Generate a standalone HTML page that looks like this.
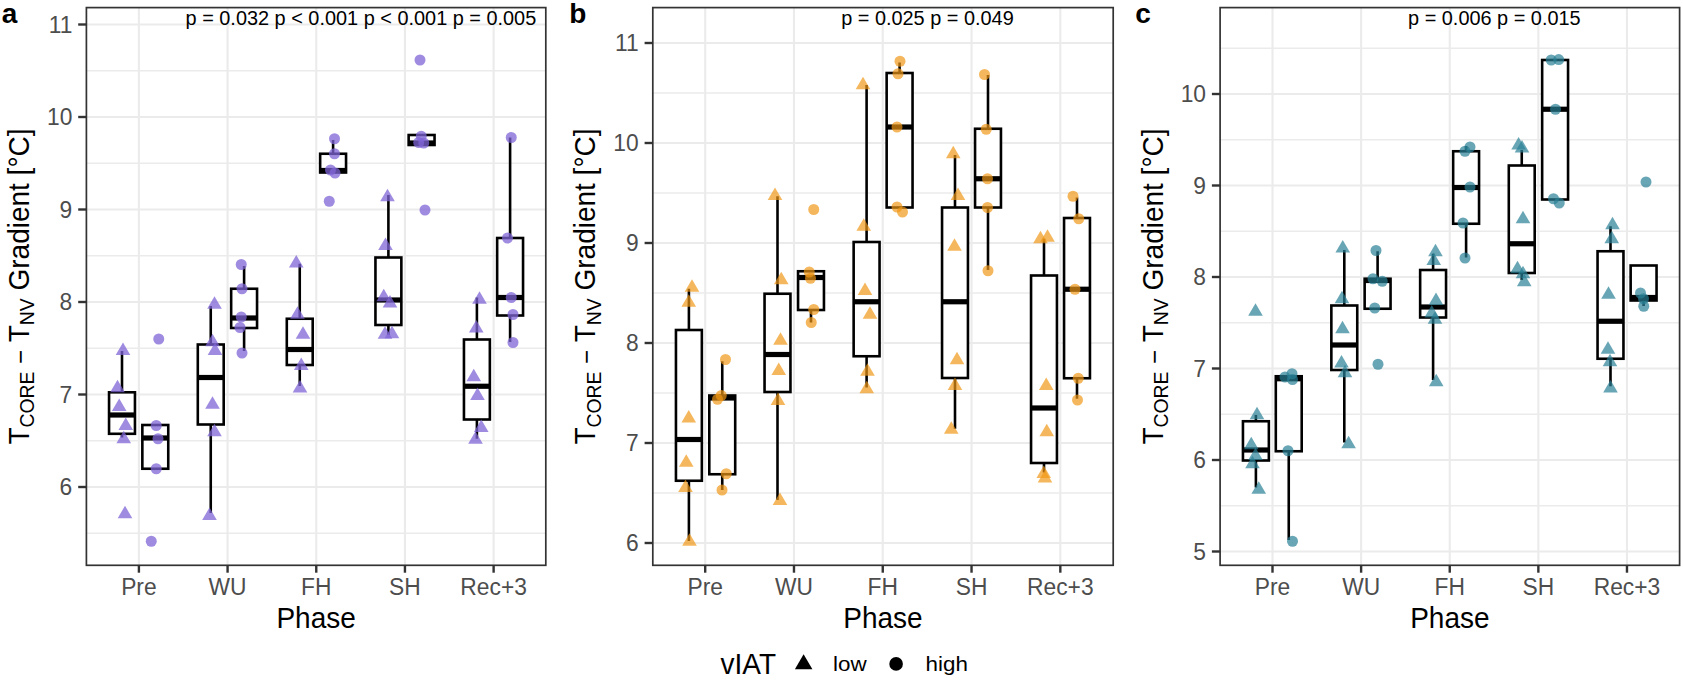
<!DOCTYPE html>
<html lang="en">
<head>
<meta charset="utf-8">
<title>Tcore - Tnv gradient by phase</title>
<style>
html,body{margin:0;padding:0;background:#fff;}
body{width:1683px;height:680px;overflow:hidden;}
svg{display:block;}
text{font-family:"Liberation Sans", sans-serif;}
.ax{font-size:22.8px;fill:#4D4D4D;}
.ti{font-size:28px;fill:#000;}
.pt{font-size:19.9px;fill:#000;}
.lab{font-size:28px;font-weight:bold;fill:#000;}
.lg{font-size:22.4px;fill:#000;}
</style>
</head>
<body>
<svg width="1683" height="680" viewBox="0 0 1683 680">
<rect x="0" y="0" width="1683" height="680" fill="#ffffff"/>
<g id="panel-a">
<rect x="86.4" y="7.6" width="459.4" height="557.7" fill="#fff"/>
<line x1="86.4" x2="545.8" y1="533.25" y2="533.25" stroke="#EBEBEB" stroke-width="1.3"/>
<line x1="86.4" x2="545.8" y1="440.75" y2="440.75" stroke="#EBEBEB" stroke-width="1.3"/>
<line x1="86.4" x2="545.8" y1="348.25" y2="348.25" stroke="#EBEBEB" stroke-width="1.3"/>
<line x1="86.4" x2="545.8" y1="255.75" y2="255.75" stroke="#EBEBEB" stroke-width="1.3"/>
<line x1="86.4" x2="545.8" y1="163.25" y2="163.25" stroke="#EBEBEB" stroke-width="1.3"/>
<line x1="86.4" x2="545.8" y1="70.75" y2="70.75" stroke="#EBEBEB" stroke-width="1.3"/>
<line x1="86.4" x2="545.8" y1="487" y2="487" stroke="#EBEBEB" stroke-width="2.1"/>
<line x1="86.4" x2="545.8" y1="394.5" y2="394.5" stroke="#EBEBEB" stroke-width="2.1"/>
<line x1="86.4" x2="545.8" y1="302" y2="302" stroke="#EBEBEB" stroke-width="2.1"/>
<line x1="86.4" x2="545.8" y1="209.5" y2="209.5" stroke="#EBEBEB" stroke-width="2.1"/>
<line x1="86.4" x2="545.8" y1="117" y2="117" stroke="#EBEBEB" stroke-width="2.1"/>
<line x1="86.4" x2="545.8" y1="24.5" y2="24.5" stroke="#EBEBEB" stroke-width="2.1"/>
<line x1="138.9" x2="138.9" y1="7.6" y2="565.3" stroke="#EBEBEB" stroke-width="2.1"/>
<line x1="227.58" x2="227.58" y1="7.6" y2="565.3" stroke="#EBEBEB" stroke-width="2.1"/>
<line x1="316.26" x2="316.26" y1="7.6" y2="565.3" stroke="#EBEBEB" stroke-width="2.1"/>
<line x1="404.94" x2="404.94" y1="7.6" y2="565.3" stroke="#EBEBEB" stroke-width="2.1"/>
<line x1="493.62" x2="493.62" y1="7.6" y2="565.3" stroke="#EBEBEB" stroke-width="2.1"/>
<line x1="122" x2="122" y1="351" y2="392.3" stroke="#000" stroke-width="2.6"/>
<line x1="122" x2="122" y1="433.8" y2="437.5" stroke="#000" stroke-width="2.6"/>
<rect x="109.05" y="392.3" width="25.9" height="41.5" fill="#fff" stroke="#000" stroke-width="2.6"/>
<line x1="109.05" x2="134.95" y1="415" y2="415" stroke="#000" stroke-width="5.2"/>
<rect x="142.35" y="425" width="25.9" height="43.75" fill="#fff" stroke="#000" stroke-width="2.6"/>
<line x1="142.35" x2="168.25" y1="438" y2="438" stroke="#000" stroke-width="5.2"/>
<line x1="210.75" x2="210.75" y1="306" y2="344.5" stroke="#000" stroke-width="2.6"/>
<line x1="210.75" x2="210.75" y1="424.5" y2="513" stroke="#000" stroke-width="2.6"/>
<rect x="197.8" y="344.5" width="25.9" height="80" fill="#fff" stroke="#000" stroke-width="2.6"/>
<line x1="197.8" x2="223.7" y1="377.5" y2="377.5" stroke="#000" stroke-width="5.2"/>
<line x1="244.1" x2="244.1" y1="266" y2="288.75" stroke="#000" stroke-width="2.6"/>
<line x1="244.1" x2="244.1" y1="328" y2="351" stroke="#000" stroke-width="2.6"/>
<rect x="231.15" y="288.75" width="25.9" height="39.25" fill="#fff" stroke="#000" stroke-width="2.6"/>
<line x1="231.15" x2="257.05" y1="318" y2="318" stroke="#000" stroke-width="5.2"/>
<line x1="299.75" x2="299.75" y1="263.75" y2="318.75" stroke="#000" stroke-width="2.6"/>
<line x1="299.75" x2="299.75" y1="365" y2="386" stroke="#000" stroke-width="2.6"/>
<rect x="286.8" y="318.75" width="25.9" height="46.25" fill="#fff" stroke="#000" stroke-width="2.6"/>
<line x1="286.8" x2="312.7" y1="349.5" y2="349.5" stroke="#000" stroke-width="5.2"/>
<line x1="333.1" x2="333.1" y1="140" y2="153.75" stroke="#000" stroke-width="2.6"/>
<rect x="320.15" y="153.75" width="25.9" height="18.75" fill="#fff" stroke="#000" stroke-width="2.6"/>
<line x1="320.15" x2="346.05" y1="170.5" y2="170.5" stroke="#000" stroke-width="5.2"/>
<line x1="388.4" x2="388.4" y1="195" y2="257.5" stroke="#000" stroke-width="2.6"/>
<line x1="388.4" x2="388.4" y1="325" y2="335" stroke="#000" stroke-width="2.6"/>
<rect x="375.45" y="257.5" width="25.9" height="67.5" fill="#fff" stroke="#000" stroke-width="2.6"/>
<line x1="375.45" x2="401.35" y1="300" y2="300" stroke="#000" stroke-width="5.2"/>
<rect x="408.65" y="135" width="25.9" height="10" fill="#fff" stroke="#000" stroke-width="2.6"/>
<line x1="408.65" x2="434.55" y1="143" y2="143" stroke="#000" stroke-width="5.2"/>
<line x1="476.9" x2="476.9" y1="297.5" y2="339.5" stroke="#000" stroke-width="2.6"/>
<line x1="476.9" x2="476.9" y1="419.5" y2="438.75" stroke="#000" stroke-width="2.6"/>
<rect x="463.95" y="339.5" width="25.9" height="80" fill="#fff" stroke="#000" stroke-width="2.6"/>
<line x1="463.95" x2="489.85" y1="386.25" y2="386.25" stroke="#000" stroke-width="5.2"/>
<line x1="510.1" x2="510.1" y1="137.5" y2="238" stroke="#000" stroke-width="2.6"/>
<line x1="510.1" x2="510.1" y1="315.5" y2="342" stroke="#000" stroke-width="2.6"/>
<rect x="497.15" y="238" width="25.9" height="77.5" fill="#fff" stroke="#000" stroke-width="2.6"/>
<line x1="497.15" x2="523.05" y1="297.5" y2="297.5" stroke="#000" stroke-width="5.2"/>
<polygon points="123,342.45 115.7,355.05 130.3,355.05" fill="rgba(127,100,213,0.75)"/>
<polygon points="117.5,379.7 110.2,392.3 124.8,392.3" fill="rgba(127,100,213,0.75)"/>
<polygon points="119.2,398.4 111.9,411 126.5,411" fill="rgba(127,100,213,0.75)"/>
<polygon points="125.75,417.45 118.45,430.05 133.05,430.05" fill="rgba(127,100,213,0.75)"/>
<polygon points="123.75,430.7 116.45,443.3 131.05,443.3" fill="rgba(127,100,213,0.75)"/>
<polygon points="125,505.7 117.7,518.3 132.3,518.3" fill="rgba(127,100,213,0.75)"/>
<circle cx="156.25" cy="425.5" r="5.5" fill="rgba(127,100,213,0.75)"/>
<circle cx="158" cy="438.75" r="5.5" fill="rgba(127,100,213,0.75)"/>
<circle cx="156.25" cy="468.75" r="5.5" fill="rgba(127,100,213,0.75)"/>
<circle cx="158.75" cy="339" r="5.5" fill="rgba(127,100,213,0.75)"/>
<circle cx="151.25" cy="541.25" r="5.5" fill="rgba(127,100,213,0.75)"/>
<polygon points="214.5,296.2 207.2,308.8 221.8,308.8" fill="rgba(127,100,213,0.75)"/>
<polygon points="212.5,333.7 205.2,346.3 219.8,346.3" fill="rgba(127,100,213,0.75)"/>
<polygon points="215,342.45 207.7,355.05 222.3,355.05" fill="rgba(127,100,213,0.75)"/>
<polygon points="212.5,396.2 205.2,408.8 219.8,408.8" fill="rgba(127,100,213,0.75)"/>
<polygon points="214.5,423.7 207.2,436.3 221.8,436.3" fill="rgba(127,100,213,0.75)"/>
<polygon points="209.5,507.45 202.2,520.05 216.8,520.05" fill="rgba(127,100,213,0.75)"/>
<circle cx="241.25" cy="264.5" r="5.5" fill="rgba(127,100,213,0.75)"/>
<circle cx="242" cy="288.75" r="5.5" fill="rgba(127,100,213,0.75)"/>
<circle cx="241.25" cy="317" r="5.5" fill="rgba(127,100,213,0.75)"/>
<circle cx="240" cy="327.5" r="5.5" fill="rgba(127,100,213,0.75)"/>
<circle cx="242" cy="353" r="5.5" fill="rgba(127,100,213,0.75)"/>
<polygon points="296.25,254.95 288.95,267.55 303.55,267.55" fill="rgba(127,100,213,0.75)"/>
<polygon points="297.5,306.2 290.2,318.8 304.8,318.8" fill="rgba(127,100,213,0.75)"/>
<polygon points="303,326.2 295.7,338.8 310.3,338.8" fill="rgba(127,100,213,0.75)"/>
<polygon points="301.25,357.45 293.95,370.05 308.55,370.05" fill="rgba(127,100,213,0.75)"/>
<polygon points="300,379.95 292.7,392.55 307.3,392.55" fill="rgba(127,100,213,0.75)"/>
<circle cx="334.5" cy="138.75" r="5.5" fill="rgba(127,100,213,0.75)"/>
<circle cx="334.5" cy="153.75" r="5.5" fill="rgba(127,100,213,0.75)"/>
<circle cx="330.5" cy="170" r="5.5" fill="rgba(127,100,213,0.75)"/>
<circle cx="335" cy="173" r="5.5" fill="rgba(127,100,213,0.75)"/>
<circle cx="329.25" cy="201.25" r="5.5" fill="rgba(127,100,213,0.75)"/>
<polygon points="387.5,188.7 380.2,201.3 394.8,201.3" fill="rgba(127,100,213,0.75)"/>
<polygon points="385.5,237.45 378.2,250.05 392.8,250.05" fill="rgba(127,100,213,0.75)"/>
<polygon points="383.75,288.7 376.45,301.3 391.05,301.3" fill="rgba(127,100,213,0.75)"/>
<polygon points="390,294.95 382.7,307.55 397.3,307.55" fill="rgba(127,100,213,0.75)"/>
<polygon points="385,326.2 377.7,338.8 392.3,338.8" fill="rgba(127,100,213,0.75)"/>
<polygon points="392,325.7 384.7,338.3 399.3,338.3" fill="rgba(127,100,213,0.75)"/>
<circle cx="420" cy="60" r="5.5" fill="rgba(127,100,213,0.75)"/>
<circle cx="421.25" cy="136.25" r="5.5" fill="rgba(127,100,213,0.75)"/>
<circle cx="418.75" cy="142.5" r="5.5" fill="rgba(127,100,213,0.75)"/>
<circle cx="423.75" cy="143" r="5.5" fill="rgba(127,100,213,0.75)"/>
<circle cx="425" cy="210" r="5.5" fill="rgba(127,100,213,0.75)"/>
<polygon points="479.5,291.2 472.2,303.8 486.8,303.8" fill="rgba(127,100,213,0.75)"/>
<polygon points="476.25,319.95 468.95,332.55 483.55,332.55" fill="rgba(127,100,213,0.75)"/>
<polygon points="473.75,368.7 466.45,381.3 481.05,381.3" fill="rgba(127,100,213,0.75)"/>
<polygon points="477.5,387.45 470.2,400.05 484.8,400.05" fill="rgba(127,100,213,0.75)"/>
<polygon points="481.25,419.45 473.95,432.05 488.55,432.05" fill="rgba(127,100,213,0.75)"/>
<polygon points="475.5,431.2 468.2,443.8 482.8,443.8" fill="rgba(127,100,213,0.75)"/>
<circle cx="511.25" cy="137.5" r="5.5" fill="rgba(127,100,213,0.75)"/>
<circle cx="507.5" cy="238" r="5.5" fill="rgba(127,100,213,0.75)"/>
<circle cx="511.25" cy="297.5" r="5.5" fill="rgba(127,100,213,0.75)"/>
<circle cx="513" cy="314.5" r="5.5" fill="rgba(127,100,213,0.75)"/>
<circle cx="513" cy="342.5" r="5.5" fill="rgba(127,100,213,0.75)"/>
<text class="pt" transform="translate(360.9,24.9) scale(1,1.04)" text-anchor="middle">p = 0.032 p &lt; 0.001 p &lt; 0.001 p = 0.005</text>
<rect x="86.4" y="7.6" width="459.4" height="557.7" fill="none" stroke="#333333" stroke-width="1.7"/>
<line x1="78.2" x2="86.4" y1="487" y2="487" stroke="#333333" stroke-width="2.4"/>
<text class="ax" transform="translate(72.3,495.3) scale(1,1.05)" text-anchor="end">6</text>
<line x1="78.2" x2="86.4" y1="394.5" y2="394.5" stroke="#333333" stroke-width="2.4"/>
<text class="ax" transform="translate(72.3,402.8) scale(1,1.05)" text-anchor="end">7</text>
<line x1="78.2" x2="86.4" y1="302" y2="302" stroke="#333333" stroke-width="2.4"/>
<text class="ax" transform="translate(72.3,310.3) scale(1,1.05)" text-anchor="end">8</text>
<line x1="78.2" x2="86.4" y1="209.5" y2="209.5" stroke="#333333" stroke-width="2.4"/>
<text class="ax" transform="translate(72.3,217.8) scale(1,1.05)" text-anchor="end">9</text>
<line x1="78.2" x2="86.4" y1="117" y2="117" stroke="#333333" stroke-width="2.4"/>
<text class="ax" transform="translate(72.3,125.3) scale(1,1.05)" text-anchor="end">10</text>
<line x1="78.2" x2="86.4" y1="24.5" y2="24.5" stroke="#333333" stroke-width="2.4"/>
<text class="ax" transform="translate(72.3,32.8) scale(1,1.05)" text-anchor="end">11</text>
<line x1="138.9" x2="138.9" y1="565.3" y2="572.7" stroke="#333333" stroke-width="2.4"/>
<text class="ax" transform="translate(138.9,595.4) scale(1,1.05)" text-anchor="middle">Pre</text>
<line x1="227.58" x2="227.58" y1="565.3" y2="572.7" stroke="#333333" stroke-width="2.4"/>
<text class="ax" transform="translate(227.58,595.4) scale(1,1.05)" text-anchor="middle">WU</text>
<line x1="316.26" x2="316.26" y1="565.3" y2="572.7" stroke="#333333" stroke-width="2.4"/>
<text class="ax" transform="translate(316.26,595.4) scale(1,1.05)" text-anchor="middle">FH</text>
<line x1="404.94" x2="404.94" y1="565.3" y2="572.7" stroke="#333333" stroke-width="2.4"/>
<text class="ax" transform="translate(404.94,595.4) scale(1,1.05)" text-anchor="middle">SH</text>
<line x1="493.62" x2="493.62" y1="565.3" y2="572.7" stroke="#333333" stroke-width="2.4"/>
<text class="ax" transform="translate(493.62,595.4) scale(1,1.05)" text-anchor="middle">Rec+3</text>
<text class="ti" transform="translate(316.1,627.8) scale(1,1.06)" text-anchor="middle">Phase</text>
<text class="ti" transform="translate(28.9,286.5) rotate(-90) scale(1,1.06)" text-anchor="middle">T<tspan font-size="19.4" dy="5.2">CORE</tspan><tspan dy="-5.2"> </tspan><tspan font-size="24">−</tspan><tspan> T</tspan><tspan font-size="19.4" dy="5.2">NV</tspan><tspan dy="-5.2"> Gradient [°C]</tspan></text>
<text class="lab" transform="translate(1.7,22.9) scale(1,1.0)">a</text>
</g>
<g id="panel-b">
<rect x="652.8" y="7.6" width="460.4" height="557.7" fill="#fff"/>
<line x1="652.8" x2="1113.2" y1="493" y2="493" stroke="#EBEBEB" stroke-width="1.3"/>
<line x1="652.8" x2="1113.2" y1="393" y2="393" stroke="#EBEBEB" stroke-width="1.3"/>
<line x1="652.8" x2="1113.2" y1="293" y2="293" stroke="#EBEBEB" stroke-width="1.3"/>
<line x1="652.8" x2="1113.2" y1="193" y2="193" stroke="#EBEBEB" stroke-width="1.3"/>
<line x1="652.8" x2="1113.2" y1="93" y2="93" stroke="#EBEBEB" stroke-width="1.3"/>
<line x1="652.8" x2="1113.2" y1="543" y2="543" stroke="#EBEBEB" stroke-width="2.1"/>
<line x1="652.8" x2="1113.2" y1="443" y2="443" stroke="#EBEBEB" stroke-width="2.1"/>
<line x1="652.8" x2="1113.2" y1="343" y2="343" stroke="#EBEBEB" stroke-width="2.1"/>
<line x1="652.8" x2="1113.2" y1="243" y2="243" stroke="#EBEBEB" stroke-width="2.1"/>
<line x1="652.8" x2="1113.2" y1="143" y2="143" stroke="#EBEBEB" stroke-width="2.1"/>
<line x1="652.8" x2="1113.2" y1="43" y2="43" stroke="#EBEBEB" stroke-width="2.1"/>
<line x1="705.2" x2="705.2" y1="7.6" y2="565.3" stroke="#EBEBEB" stroke-width="2.1"/>
<line x1="793.98" x2="793.98" y1="7.6" y2="565.3" stroke="#EBEBEB" stroke-width="2.1"/>
<line x1="882.76" x2="882.76" y1="7.6" y2="565.3" stroke="#EBEBEB" stroke-width="2.1"/>
<line x1="971.54" x2="971.54" y1="7.6" y2="565.3" stroke="#EBEBEB" stroke-width="2.1"/>
<line x1="1060.32" x2="1060.32" y1="7.6" y2="565.3" stroke="#EBEBEB" stroke-width="2.1"/>
<line x1="688.9" x2="688.9" y1="288.75" y2="330" stroke="#000" stroke-width="2.6"/>
<line x1="688.9" x2="688.9" y1="480.75" y2="541" stroke="#000" stroke-width="2.6"/>
<rect x="675.95" y="330" width="25.9" height="150.75" fill="#fff" stroke="#000" stroke-width="2.6"/>
<line x1="675.95" x2="701.85" y1="439.5" y2="439.5" stroke="#000" stroke-width="5.2"/>
<line x1="722.25" x2="722.25" y1="361.25" y2="395.5" stroke="#000" stroke-width="2.6"/>
<line x1="722.25" x2="722.25" y1="474.25" y2="490" stroke="#000" stroke-width="2.6"/>
<rect x="709.3" y="395.5" width="25.9" height="78.75" fill="#fff" stroke="#000" stroke-width="2.6"/>
<line x1="709.3" x2="735.2" y1="398" y2="398" stroke="#000" stroke-width="5.2"/>
<line x1="777.5" x2="777.5" y1="196.25" y2="293.75" stroke="#000" stroke-width="2.6"/>
<line x1="777.5" x2="777.5" y1="392" y2="500" stroke="#000" stroke-width="2.6"/>
<rect x="764.55" y="293.75" width="25.9" height="98.25" fill="#fff" stroke="#000" stroke-width="2.6"/>
<line x1="764.55" x2="790.45" y1="354.5" y2="354.5" stroke="#000" stroke-width="5.2"/>
<line x1="811" x2="811" y1="310" y2="322.5" stroke="#000" stroke-width="2.6"/>
<rect x="798.05" y="271.25" width="25.9" height="38.75" fill="#fff" stroke="#000" stroke-width="2.6"/>
<line x1="798.05" x2="823.95" y1="277.5" y2="277.5" stroke="#000" stroke-width="5.2"/>
<line x1="866.6" x2="866.6" y1="85" y2="242" stroke="#000" stroke-width="2.6"/>
<line x1="866.6" x2="866.6" y1="356.25" y2="387.5" stroke="#000" stroke-width="2.6"/>
<rect x="853.65" y="242" width="25.9" height="114.25" fill="#fff" stroke="#000" stroke-width="2.6"/>
<line x1="853.65" x2="879.55" y1="301.75" y2="301.75" stroke="#000" stroke-width="5.2"/>
<line x1="899.6" x2="899.6" y1="62.5" y2="73" stroke="#000" stroke-width="2.6"/>
<rect x="886.65" y="73" width="25.9" height="134.5" fill="#fff" stroke="#000" stroke-width="2.6"/>
<line x1="886.65" x2="912.55" y1="127" y2="127" stroke="#000" stroke-width="5.2"/>
<line x1="955" x2="955" y1="155" y2="207.5" stroke="#000" stroke-width="2.6"/>
<line x1="955" x2="955" y1="378" y2="428.75" stroke="#000" stroke-width="2.6"/>
<rect x="942.05" y="207.5" width="25.9" height="170.5" fill="#fff" stroke="#000" stroke-width="2.6"/>
<line x1="942.05" x2="967.95" y1="301.75" y2="301.75" stroke="#000" stroke-width="5.2"/>
<line x1="988" x2="988" y1="75" y2="128.75" stroke="#000" stroke-width="2.6"/>
<line x1="988" x2="988" y1="207.5" y2="270" stroke="#000" stroke-width="2.6"/>
<rect x="975.05" y="128.75" width="25.9" height="78.75" fill="#fff" stroke="#000" stroke-width="2.6"/>
<line x1="975.05" x2="1000.95" y1="178.75" y2="178.75" stroke="#000" stroke-width="5.2"/>
<line x1="1044" x2="1044" y1="238.75" y2="275.5" stroke="#000" stroke-width="2.6"/>
<line x1="1044" x2="1044" y1="463" y2="472.5" stroke="#000" stroke-width="2.6"/>
<rect x="1031.05" y="275.5" width="25.9" height="187.5" fill="#fff" stroke="#000" stroke-width="2.6"/>
<line x1="1031.05" x2="1056.95" y1="408" y2="408" stroke="#000" stroke-width="5.2"/>
<line x1="1077" x2="1077" y1="197.5" y2="218" stroke="#000" stroke-width="2.6"/>
<line x1="1077" x2="1077" y1="378.25" y2="398.75" stroke="#000" stroke-width="2.6"/>
<rect x="1064.05" y="218" width="25.9" height="160.25" fill="#fff" stroke="#000" stroke-width="2.6"/>
<line x1="1064.05" x2="1089.95" y1="289.25" y2="289.25" stroke="#000" stroke-width="5.2"/>
<polygon points="692,279.2 684.7,291.8 699.3,291.8" fill="rgba(240,150,20,0.69)"/>
<polygon points="688.75,294.2 681.45,306.8 696.05,306.8" fill="rgba(240,150,20,0.69)"/>
<polygon points="688.75,409.95 681.45,422.55 696.05,422.55" fill="rgba(240,150,20,0.69)"/>
<polygon points="686.25,454.2 678.95,466.8 693.55,466.8" fill="rgba(240,150,20,0.69)"/>
<polygon points="685.5,479.45 678.2,492.05 692.8,492.05" fill="rgba(240,150,20,0.69)"/>
<polygon points="689.5,533.2 682.2,545.8 696.8,545.8" fill="rgba(240,150,20,0.69)"/>
<circle cx="725.5" cy="359.5" r="5.5" fill="rgba(240,150,20,0.69)"/>
<circle cx="721.25" cy="395.5" r="5.5" fill="rgba(240,150,20,0.69)"/>
<circle cx="717.5" cy="399.25" r="5.5" fill="rgba(240,150,20,0.69)"/>
<circle cx="726.25" cy="473.75" r="5.5" fill="rgba(240,150,20,0.69)"/>
<circle cx="722" cy="490" r="5.5" fill="rgba(240,150,20,0.69)"/>
<polygon points="775,187.45 767.7,200.05 782.3,200.05" fill="rgba(240,150,20,0.69)"/>
<polygon points="781.25,271.7 773.95,284.3 788.55,284.3" fill="rgba(240,150,20,0.69)"/>
<polygon points="780.5,332.2 773.2,344.8 787.8,344.8" fill="rgba(240,150,20,0.69)"/>
<polygon points="778.75,362.45 771.45,375.05 786.05,375.05" fill="rgba(240,150,20,0.69)"/>
<polygon points="778,392.45 770.7,405.05 785.3,405.05" fill="rgba(240,150,20,0.69)"/>
<polygon points="780,492.45 772.7,505.05 787.3,505.05" fill="rgba(240,150,20,0.69)"/>
<circle cx="813.75" cy="209.5" r="5.5" fill="rgba(240,150,20,0.69)"/>
<circle cx="809.25" cy="272" r="5.5" fill="rgba(240,150,20,0.69)"/>
<circle cx="810.5" cy="278.25" r="5.5" fill="rgba(240,150,20,0.69)"/>
<circle cx="813.75" cy="309.5" r="5.5" fill="rgba(240,150,20,0.69)"/>
<circle cx="811.25" cy="322.5" r="5.5" fill="rgba(240,150,20,0.69)"/>
<polygon points="863,76.7 855.7,89.3 870.3,89.3" fill="rgba(240,150,20,0.69)"/>
<polygon points="863.75,218.2 856.45,230.8 871.05,230.8" fill="rgba(240,150,20,0.69)"/>
<polygon points="865,282.45 857.7,295.05 872.3,295.05" fill="rgba(240,150,20,0.69)"/>
<polygon points="870,306.2 862.7,318.8 877.3,318.8" fill="rgba(240,150,20,0.69)"/>
<polygon points="867.5,363.2 860.2,375.8 874.8,375.8" fill="rgba(240,150,20,0.69)"/>
<polygon points="866.75,380.7 859.45,393.3 874.05,393.3" fill="rgba(240,150,20,0.69)"/>
<circle cx="900" cy="61.25" r="5.5" fill="rgba(240,150,20,0.69)"/>
<circle cx="898" cy="73.75" r="5.5" fill="rgba(240,150,20,0.69)"/>
<circle cx="897" cy="127" r="5.5" fill="rgba(240,150,20,0.69)"/>
<circle cx="897" cy="207" r="5.5" fill="rgba(240,150,20,0.69)"/>
<circle cx="902.5" cy="212" r="5.5" fill="rgba(240,150,20,0.69)"/>
<polygon points="953.25,145.7 945.95,158.3 960.55,158.3" fill="rgba(240,150,20,0.69)"/>
<polygon points="958,187.45 950.7,200.05 965.3,200.05" fill="rgba(240,150,20,0.69)"/>
<polygon points="954.5,238.2 947.2,250.8 961.8,250.8" fill="rgba(240,150,20,0.69)"/>
<polygon points="957,351.7 949.7,364.3 964.3,364.3" fill="rgba(240,150,20,0.69)"/>
<polygon points="955,377.45 947.7,390.05 962.3,390.05" fill="rgba(240,150,20,0.69)"/>
<polygon points="951.25,421.2 943.95,433.8 958.55,433.8" fill="rgba(240,150,20,0.69)"/>
<circle cx="984.5" cy="74.5" r="5.5" fill="rgba(240,150,20,0.69)"/>
<circle cx="986.25" cy="129.25" r="5.5" fill="rgba(240,150,20,0.69)"/>
<circle cx="987.5" cy="178.75" r="5.5" fill="rgba(240,150,20,0.69)"/>
<circle cx="987.5" cy="207.5" r="5.5" fill="rgba(240,150,20,0.69)"/>
<circle cx="988" cy="270.75" r="5.5" fill="rgba(240,150,20,0.69)"/>
<polygon points="1040.5,230.7 1033.2,243.3 1047.8,243.3" fill="rgba(240,150,20,0.69)"/>
<polygon points="1047.5,229.2 1040.2,241.8 1054.8,241.8" fill="rgba(240,150,20,0.69)"/>
<polygon points="1046.25,377.45 1038.95,390.05 1053.55,390.05" fill="rgba(240,150,20,0.69)"/>
<polygon points="1046.75,423.7 1039.45,436.3 1054.05,436.3" fill="rgba(240,150,20,0.69)"/>
<polygon points="1043.75,465.45 1036.45,478.05 1051.05,478.05" fill="rgba(240,150,20,0.69)"/>
<polygon points="1045,469.95 1037.7,482.55 1052.3,482.55" fill="rgba(240,150,20,0.69)"/>
<circle cx="1073" cy="196.25" r="5.5" fill="rgba(240,150,20,0.69)"/>
<circle cx="1078.75" cy="218.75" r="5.5" fill="rgba(240,150,20,0.69)"/>
<circle cx="1075" cy="289.25" r="5.5" fill="rgba(240,150,20,0.69)"/>
<circle cx="1078.25" cy="378.25" r="5.5" fill="rgba(240,150,20,0.69)"/>
<circle cx="1077.5" cy="400" r="5.5" fill="rgba(240,150,20,0.69)"/>
<text class="pt" transform="translate(927.45,24.9) scale(1,1.04)" text-anchor="middle">p = 0.025 p = 0.049</text>
<rect x="652.8" y="7.6" width="460.4" height="557.7" fill="none" stroke="#333333" stroke-width="1.7"/>
<line x1="644.6" x2="652.8" y1="543" y2="543" stroke="#333333" stroke-width="2.4"/>
<text class="ax" transform="translate(638.7,551.3) scale(1,1.05)" text-anchor="end">6</text>
<line x1="644.6" x2="652.8" y1="443" y2="443" stroke="#333333" stroke-width="2.4"/>
<text class="ax" transform="translate(638.7,451.3) scale(1,1.05)" text-anchor="end">7</text>
<line x1="644.6" x2="652.8" y1="343" y2="343" stroke="#333333" stroke-width="2.4"/>
<text class="ax" transform="translate(638.7,351.3) scale(1,1.05)" text-anchor="end">8</text>
<line x1="644.6" x2="652.8" y1="243" y2="243" stroke="#333333" stroke-width="2.4"/>
<text class="ax" transform="translate(638.7,251.3) scale(1,1.05)" text-anchor="end">9</text>
<line x1="644.6" x2="652.8" y1="143" y2="143" stroke="#333333" stroke-width="2.4"/>
<text class="ax" transform="translate(638.7,151.3) scale(1,1.05)" text-anchor="end">10</text>
<line x1="644.6" x2="652.8" y1="43" y2="43" stroke="#333333" stroke-width="2.4"/>
<text class="ax" transform="translate(638.7,51.3) scale(1,1.05)" text-anchor="end">11</text>
<line x1="705.2" x2="705.2" y1="565.3" y2="572.7" stroke="#333333" stroke-width="2.4"/>
<text class="ax" transform="translate(705.2,595.4) scale(1,1.05)" text-anchor="middle">Pre</text>
<line x1="793.98" x2="793.98" y1="565.3" y2="572.7" stroke="#333333" stroke-width="2.4"/>
<text class="ax" transform="translate(793.98,595.4) scale(1,1.05)" text-anchor="middle">WU</text>
<line x1="882.76" x2="882.76" y1="565.3" y2="572.7" stroke="#333333" stroke-width="2.4"/>
<text class="ax" transform="translate(882.76,595.4) scale(1,1.05)" text-anchor="middle">FH</text>
<line x1="971.54" x2="971.54" y1="565.3" y2="572.7" stroke="#333333" stroke-width="2.4"/>
<text class="ax" transform="translate(971.54,595.4) scale(1,1.05)" text-anchor="middle">SH</text>
<line x1="1060.32" x2="1060.32" y1="565.3" y2="572.7" stroke="#333333" stroke-width="2.4"/>
<text class="ax" transform="translate(1060.32,595.4) scale(1,1.05)" text-anchor="middle">Rec+3</text>
<text class="ti" transform="translate(883,627.8) scale(1,1.06)" text-anchor="middle">Phase</text>
<text class="ti" transform="translate(595.3,286.5) rotate(-90) scale(1,1.06)" text-anchor="middle">T<tspan font-size="19.4" dy="5.2">CORE</tspan><tspan dy="-5.2"> </tspan><tspan font-size="24">−</tspan><tspan> T</tspan><tspan font-size="19.4" dy="5.2">NV</tspan><tspan dy="-5.2"> Gradient [°C]</tspan></text>
<text class="lab" transform="translate(569.2,22.9) scale(1,1.0)">b</text>
</g>
<g id="panel-c">
<rect x="1220.1" y="7.6" width="459.5" height="557.7" fill="#fff"/>
<line x1="1220.1" x2="1679.6" y1="505.75" y2="505.75" stroke="#EBEBEB" stroke-width="1.3"/>
<line x1="1220.1" x2="1679.6" y1="414.25" y2="414.25" stroke="#EBEBEB" stroke-width="1.3"/>
<line x1="1220.1" x2="1679.6" y1="322.75" y2="322.75" stroke="#EBEBEB" stroke-width="1.3"/>
<line x1="1220.1" x2="1679.6" y1="231.25" y2="231.25" stroke="#EBEBEB" stroke-width="1.3"/>
<line x1="1220.1" x2="1679.6" y1="139.75" y2="139.75" stroke="#EBEBEB" stroke-width="1.3"/>
<line x1="1220.1" x2="1679.6" y1="48.25" y2="48.25" stroke="#EBEBEB" stroke-width="1.3"/>
<line x1="1220.1" x2="1679.6" y1="551.5" y2="551.5" stroke="#EBEBEB" stroke-width="2.1"/>
<line x1="1220.1" x2="1679.6" y1="460" y2="460" stroke="#EBEBEB" stroke-width="2.1"/>
<line x1="1220.1" x2="1679.6" y1="368.5" y2="368.5" stroke="#EBEBEB" stroke-width="2.1"/>
<line x1="1220.1" x2="1679.6" y1="277" y2="277" stroke="#EBEBEB" stroke-width="2.1"/>
<line x1="1220.1" x2="1679.6" y1="185.5" y2="185.5" stroke="#EBEBEB" stroke-width="2.1"/>
<line x1="1220.1" x2="1679.6" y1="94" y2="94" stroke="#EBEBEB" stroke-width="2.1"/>
<line x1="1272.5" x2="1272.5" y1="7.6" y2="565.3" stroke="#EBEBEB" stroke-width="2.1"/>
<line x1="1361.12" x2="1361.12" y1="7.6" y2="565.3" stroke="#EBEBEB" stroke-width="2.1"/>
<line x1="1449.74" x2="1449.74" y1="7.6" y2="565.3" stroke="#EBEBEB" stroke-width="2.1"/>
<line x1="1538.36" x2="1538.36" y1="7.6" y2="565.3" stroke="#EBEBEB" stroke-width="2.1"/>
<line x1="1626.98" x2="1626.98" y1="7.6" y2="565.3" stroke="#EBEBEB" stroke-width="2.1"/>
<line x1="1255.9" x2="1255.9" y1="415" y2="421.25" stroke="#000" stroke-width="2.6"/>
<line x1="1255.9" x2="1255.9" y1="460.5" y2="487.5" stroke="#000" stroke-width="2.6"/>
<rect x="1242.95" y="421.25" width="25.9" height="39.25" fill="#fff" stroke="#000" stroke-width="2.6"/>
<line x1="1242.95" x2="1268.85" y1="450" y2="450" stroke="#000" stroke-width="5.2"/>
<line x1="1288.75" x2="1288.75" y1="451.25" y2="540" stroke="#000" stroke-width="2.6"/>
<rect x="1275.8" y="376.25" width="25.9" height="75" fill="#fff" stroke="#000" stroke-width="2.6"/>
<line x1="1275.8" x2="1301.7" y1="378.75" y2="378.75" stroke="#000" stroke-width="5.2"/>
<line x1="1344.3" x2="1344.3" y1="250" y2="305.5" stroke="#000" stroke-width="2.6"/>
<line x1="1344.3" x2="1344.3" y1="370" y2="442.5" stroke="#000" stroke-width="2.6"/>
<rect x="1331.35" y="305.5" width="25.9" height="64.5" fill="#fff" stroke="#000" stroke-width="2.6"/>
<line x1="1331.35" x2="1357.25" y1="345" y2="345" stroke="#000" stroke-width="5.2"/>
<line x1="1377.6" x2="1377.6" y1="251.25" y2="278.75" stroke="#000" stroke-width="2.6"/>
<rect x="1364.65" y="278.75" width="25.9" height="30" fill="#fff" stroke="#000" stroke-width="2.6"/>
<line x1="1364.65" x2="1390.55" y1="280.5" y2="280.5" stroke="#000" stroke-width="5.2"/>
<line x1="1433.1" x2="1433.1" y1="253.75" y2="270" stroke="#000" stroke-width="2.6"/>
<line x1="1433.1" x2="1433.1" y1="317.5" y2="380" stroke="#000" stroke-width="2.6"/>
<rect x="1420.15" y="270" width="25.9" height="47.5" fill="#fff" stroke="#000" stroke-width="2.6"/>
<line x1="1420.15" x2="1446.05" y1="307" y2="307" stroke="#000" stroke-width="5.2"/>
<line x1="1466.1" x2="1466.1" y1="146" y2="151.25" stroke="#000" stroke-width="2.6"/>
<line x1="1466.1" x2="1466.1" y1="223.75" y2="257.5" stroke="#000" stroke-width="2.6"/>
<rect x="1453.15" y="151.25" width="25.9" height="72.5" fill="#fff" stroke="#000" stroke-width="2.6"/>
<line x1="1453.15" x2="1479.05" y1="187.5" y2="187.5" stroke="#000" stroke-width="5.2"/>
<line x1="1521.75" x2="1521.75" y1="150" y2="165.5" stroke="#000" stroke-width="2.6"/>
<line x1="1521.75" x2="1521.75" y1="273" y2="280" stroke="#000" stroke-width="2.6"/>
<rect x="1508.8" y="165.5" width="25.9" height="107.5" fill="#fff" stroke="#000" stroke-width="2.6"/>
<line x1="1508.8" x2="1534.7" y1="243.75" y2="243.75" stroke="#000" stroke-width="5.2"/>
<rect x="1542.15" y="60" width="25.9" height="139.5" fill="#fff" stroke="#000" stroke-width="2.6"/>
<line x1="1542.15" x2="1568.05" y1="109.25" y2="109.25" stroke="#000" stroke-width="5.2"/>
<line x1="1610.5" x2="1610.5" y1="226.25" y2="251.25" stroke="#000" stroke-width="2.6"/>
<line x1="1610.5" x2="1610.5" y1="358.75" y2="386.25" stroke="#000" stroke-width="2.6"/>
<rect x="1597.55" y="251.25" width="25.9" height="107.5" fill="#fff" stroke="#000" stroke-width="2.6"/>
<line x1="1597.55" x2="1623.45" y1="321.25" y2="321.25" stroke="#000" stroke-width="5.2"/>
<line x1="1643.6" x2="1643.6" y1="300.5" y2="306" stroke="#000" stroke-width="2.6"/>
<rect x="1630.65" y="265.5" width="25.9" height="35" fill="#fff" stroke="#000" stroke-width="2.6"/>
<line x1="1630.65" x2="1656.55" y1="297.5" y2="297.5" stroke="#000" stroke-width="5.2"/>
<polygon points="1255.5,303.2 1248.2,315.8 1262.8,315.8" fill="rgba(42,128,149,0.7)"/>
<polygon points="1257,406.7 1249.7,419.3 1264.3,419.3" fill="rgba(42,128,149,0.7)"/>
<polygon points="1251.25,436.7 1243.95,449.3 1258.55,449.3" fill="rgba(42,128,149,0.7)"/>
<polygon points="1255.5,447.45 1248.2,460.05 1262.8,460.05" fill="rgba(42,128,149,0.7)"/>
<polygon points="1252.5,455.7 1245.2,468.3 1259.8,468.3" fill="rgba(42,128,149,0.7)"/>
<polygon points="1258.75,481.2 1251.45,493.8 1266.05,493.8" fill="rgba(42,128,149,0.7)"/>
<circle cx="1285" cy="377" r="5.5" fill="rgba(42,128,149,0.7)"/>
<circle cx="1292" cy="373.75" r="5.5" fill="rgba(42,128,149,0.7)"/>
<circle cx="1292.5" cy="379.5" r="5.5" fill="rgba(42,128,149,0.7)"/>
<circle cx="1288" cy="450.75" r="5.5" fill="rgba(42,128,149,0.7)"/>
<circle cx="1292.5" cy="541.25" r="5.5" fill="rgba(42,128,149,0.7)"/>
<polygon points="1342.75,239.95 1335.45,252.55 1350.05,252.55" fill="rgba(42,128,149,0.7)"/>
<polygon points="1342,290.7 1334.7,303.3 1349.3,303.3" fill="rgba(42,128,149,0.7)"/>
<polygon points="1342.5,320.7 1335.2,333.3 1349.8,333.3" fill="rgba(42,128,149,0.7)"/>
<polygon points="1341.5,354.95 1334.2,367.55 1348.8,367.55" fill="rgba(42,128,149,0.7)"/>
<polygon points="1345,364.7 1337.7,377.3 1352.3,377.3" fill="rgba(42,128,149,0.7)"/>
<polygon points="1348.6,435.7 1341.3,448.3 1355.9,448.3" fill="rgba(42,128,149,0.7)"/>
<circle cx="1376" cy="250.5" r="5.5" fill="rgba(42,128,149,0.7)"/>
<circle cx="1373" cy="278.75" r="5.5" fill="rgba(42,128,149,0.7)"/>
<circle cx="1382.25" cy="281.25" r="5.5" fill="rgba(42,128,149,0.7)"/>
<circle cx="1374.75" cy="308" r="5.5" fill="rgba(42,128,149,0.7)"/>
<circle cx="1378" cy="364.25" r="5.5" fill="rgba(42,128,149,0.7)"/>
<polygon points="1435.5,243.7 1428.2,256.3 1442.8,256.3" fill="rgba(42,128,149,0.7)"/>
<polygon points="1433.75,252.45 1426.45,265.05 1441.05,265.05" fill="rgba(42,128,149,0.7)"/>
<polygon points="1436,292.45 1428.7,305.05 1443.3,305.05" fill="rgba(42,128,149,0.7)"/>
<polygon points="1431.75,304.95 1424.45,317.55 1439.05,317.55" fill="rgba(42,128,149,0.7)"/>
<polygon points="1435,311.2 1427.7,323.8 1442.3,323.8" fill="rgba(42,128,149,0.7)"/>
<polygon points="1436.25,373.7 1428.95,386.3 1443.55,386.3" fill="rgba(42,128,149,0.7)"/>
<circle cx="1465" cy="151.25" r="5.5" fill="rgba(42,128,149,0.7)"/>
<circle cx="1470" cy="147" r="5.5" fill="rgba(42,128,149,0.7)"/>
<circle cx="1470" cy="187" r="5.5" fill="rgba(42,128,149,0.7)"/>
<circle cx="1463" cy="223" r="5.5" fill="rgba(42,128,149,0.7)"/>
<circle cx="1465" cy="258" r="5.5" fill="rgba(42,128,149,0.7)"/>
<polygon points="1518.6,137 1511.3,149.6 1525.9,149.6" fill="rgba(42,128,149,0.7)"/>
<polygon points="1522,139.9 1514.7,152.5 1529.3,152.5" fill="rgba(42,128,149,0.7)"/>
<polygon points="1523,210.7 1515.7,223.3 1530.3,223.3" fill="rgba(42,128,149,0.7)"/>
<polygon points="1517.5,260.7 1510.2,273.3 1524.8,273.3" fill="rgba(42,128,149,0.7)"/>
<polygon points="1523,265.7 1515.7,278.3 1530.3,278.3" fill="rgba(42,128,149,0.7)"/>
<polygon points="1524.25,273.7 1516.95,286.3 1531.55,286.3" fill="rgba(42,128,149,0.7)"/>
<circle cx="1551.2" cy="60" r="5.5" fill="rgba(42,128,149,0.7)"/>
<circle cx="1558.7" cy="59.6" r="5.5" fill="rgba(42,128,149,0.7)"/>
<circle cx="1555.5" cy="109.25" r="5.5" fill="rgba(42,128,149,0.7)"/>
<circle cx="1553.5" cy="198.75" r="5.5" fill="rgba(42,128,149,0.7)"/>
<circle cx="1559.25" cy="203" r="5.5" fill="rgba(42,128,149,0.7)"/>
<polygon points="1612.5,216.7 1605.2,229.3 1619.8,229.3" fill="rgba(42,128,149,0.7)"/>
<polygon points="1611.75,230.7 1604.45,243.3 1619.05,243.3" fill="rgba(42,128,149,0.7)"/>
<polygon points="1608.5,286.2 1601.2,298.8 1615.8,298.8" fill="rgba(42,128,149,0.7)"/>
<polygon points="1608,341.2 1600.7,353.8 1615.3,353.8" fill="rgba(42,128,149,0.7)"/>
<polygon points="1610,353.7 1602.7,366.3 1617.3,366.3" fill="rgba(42,128,149,0.7)"/>
<polygon points="1610.5,379.95 1603.2,392.55 1617.8,392.55" fill="rgba(42,128,149,0.7)"/>
<circle cx="1646" cy="182" r="5.5" fill="rgba(42,128,149,0.7)"/>
<circle cx="1640.5" cy="293" r="5.5" fill="rgba(42,128,149,0.7)"/>
<circle cx="1643.5" cy="298.75" r="5.5" fill="rgba(42,128,149,0.7)"/>
<circle cx="1643.75" cy="306.25" r="5.5" fill="rgba(42,128,149,0.7)"/>
<text class="pt" transform="translate(1494.35,24.9) scale(1,1.04)" text-anchor="middle">p = 0.006 p = 0.015</text>
<rect x="1220.1" y="7.6" width="459.5" height="557.7" fill="none" stroke="#333333" stroke-width="1.7"/>
<line x1="1211.9" x2="1220.1" y1="551.5" y2="551.5" stroke="#333333" stroke-width="2.4"/>
<text class="ax" transform="translate(1206,559.8) scale(1,1.05)" text-anchor="end">5</text>
<line x1="1211.9" x2="1220.1" y1="460" y2="460" stroke="#333333" stroke-width="2.4"/>
<text class="ax" transform="translate(1206,468.3) scale(1,1.05)" text-anchor="end">6</text>
<line x1="1211.9" x2="1220.1" y1="368.5" y2="368.5" stroke="#333333" stroke-width="2.4"/>
<text class="ax" transform="translate(1206,376.8) scale(1,1.05)" text-anchor="end">7</text>
<line x1="1211.9" x2="1220.1" y1="277" y2="277" stroke="#333333" stroke-width="2.4"/>
<text class="ax" transform="translate(1206,285.3) scale(1,1.05)" text-anchor="end">8</text>
<line x1="1211.9" x2="1220.1" y1="185.5" y2="185.5" stroke="#333333" stroke-width="2.4"/>
<text class="ax" transform="translate(1206,193.8) scale(1,1.05)" text-anchor="end">9</text>
<line x1="1211.9" x2="1220.1" y1="94" y2="94" stroke="#333333" stroke-width="2.4"/>
<text class="ax" transform="translate(1206,102.3) scale(1,1.05)" text-anchor="end">10</text>
<line x1="1272.5" x2="1272.5" y1="565.3" y2="572.7" stroke="#333333" stroke-width="2.4"/>
<text class="ax" transform="translate(1272.5,595.4) scale(1,1.05)" text-anchor="middle">Pre</text>
<line x1="1361.12" x2="1361.12" y1="565.3" y2="572.7" stroke="#333333" stroke-width="2.4"/>
<text class="ax" transform="translate(1361.12,595.4) scale(1,1.05)" text-anchor="middle">WU</text>
<line x1="1449.74" x2="1449.74" y1="565.3" y2="572.7" stroke="#333333" stroke-width="2.4"/>
<text class="ax" transform="translate(1449.74,595.4) scale(1,1.05)" text-anchor="middle">FH</text>
<line x1="1538.36" x2="1538.36" y1="565.3" y2="572.7" stroke="#333333" stroke-width="2.4"/>
<text class="ax" transform="translate(1538.36,595.4) scale(1,1.05)" text-anchor="middle">SH</text>
<line x1="1626.98" x2="1626.98" y1="565.3" y2="572.7" stroke="#333333" stroke-width="2.4"/>
<text class="ax" transform="translate(1626.98,595.4) scale(1,1.05)" text-anchor="middle">Rec+3</text>
<text class="ti" transform="translate(1449.85,627.8) scale(1,1.06)" text-anchor="middle">Phase</text>
<text class="ti" transform="translate(1162.6,286.5) rotate(-90) scale(1,1.06)" text-anchor="middle">T<tspan font-size="19.4" dy="5.2">CORE</tspan><tspan dy="-5.2"> </tspan><tspan font-size="24">−</tspan><tspan> T</tspan><tspan font-size="19.4" dy="5.2">NV</tspan><tspan dy="-5.2"> Gradient [°C]</tspan></text>
<text class="lab" transform="translate(1135.2,22.9) scale(1,1.0)">c</text>
</g>
<g id="legend">
<text class="ti" transform="translate(720.6,674) scale(1,1.06)">vIAT</text>
<polygon points="803.6,654.3 794.9,669.2 812.4,669.2" fill="#000"/>
<text class="lg" transform="translate(833,671.2) scale(1,0.92)">low</text>
<circle cx="896.1" cy="663.9" r="6.8" fill="#000"/>
<text class="lg" transform="translate(925.5,671.2) scale(1,0.92)">high</text>
</g>
</svg>
</body>
</html>
